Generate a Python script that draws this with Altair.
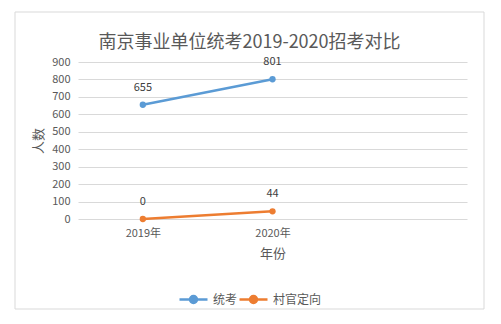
import altair as alt
import pandas as pd

years = ["2019年", "2020年"]
series_names = ["统考", "村官定向"]
tongkao = [655, 801]
cunguan = [0, 44]
y_ticks = [0, 100, 200, 300, 400, 500, 600, 700, 800, 900]
colors = ["#5b9bd5", "#ed7d31"]

rows = []
for i, y in enumerate(years):
    rows.append({"年份": y, "系列": series_names[0], "人数": tongkao[i]})
    rows.append({"年份": y, "系列": series_names[1], "人数": cunguan[i]})
df = pd.DataFrame(rows)

FONT = "Noto Sans CJK SC"
GRAY = "#595959"

x_enc = alt.X(
    "年份:N",
    scale=alt.Scale(type="point", domain=years + [" "], padding=0.5),
    axis=alt.Axis(title="年份", labelAngle=0, domain=False, ticks=False, grid=False,
                  labelPadding=8, titlePadding=9, labelFontSize=11, titleFontSize=13,
                  labelColor=GRAY, titleColor=GRAY, titleFontWeight="normal",
                  labelFont=FONT, titleFont=FONT),
)
y_enc = alt.Y(
    "人数:Q",
    scale=alt.Scale(domain=[0, 900], nice=False),
    axis=alt.Axis(title="人数", values=y_ticks, domain=False, ticks=False, grid=True,
                  gridColor="#d9d9d9", labelPadding=8, labelFontSize=11, titleFontSize=13,
                  labelColor=GRAY, titleColor=GRAY, titleFontWeight="normal",
                  labelFont=FONT, titleFont=FONT, titlePadding=6),
)
color_enc = alt.Color(
    "系列:N",
    scale=alt.Scale(domain=series_names, range=colors),
    legend=alt.Legend(title=None, orient="none", direction="horizontal",
                      legendX=100, legendY=222, labelFontSize=12, labelColor=GRAY,
                      labelFont=FONT, symbolType="M-1,0L1,0M0.25,0A0.25,0.25,0,1,1,-0.25,0A0.25,0.25,0,1,1,0.25,0Z",
                      symbolSize=784, symbolStrokeWidth=2.5, columnPadding=-6, labelOffset=4),
)

base = alt.Chart(df)
lines = base.mark_line(strokeWidth=2.5).encode(x=x_enc, y=y_enc, color=color_enc)
points = base.mark_circle(size=40, opacity=1).encode(x=x_enc, y=y_enc, color=alt.Color("系列:N", scale=alt.Scale(domain=series_names, range=colors), legend=None))
labels = base.mark_text(dy=-17, fontSize=11, color="#404040", font=FONT).encode(
    x=x_enc, y=y_enc, text="人数:Q")

frame = alt.Chart(pd.DataFrame({"a": [0]})).mark_rect(fill=None, stroke="#d9d9d9", strokeWidth=1).encode(
    x=alt.value(-63), x2=alt.value(406), y=alt.value(-50), y2=alt.value(247))

chart = alt.layer(frame, lines, points, labels).properties(
    width=389, height=157,
    title=alt.TitleParams("南京事业单位统考2019-2020招考对比", fontSize=18, color=GRAY,
                          font=FONT, fontWeight="normal", anchor="middle", dx=-23, offset=-40),
    padding={"left": 78, "top": 62, "right": 34, "bottom": 105},
    autosize=alt.AutoSizeParams(type="none"),
    background="white",
).configure_view(stroke=None)

chart.save("out.html", embed_options={"renderer": "svg", "actions": False})
